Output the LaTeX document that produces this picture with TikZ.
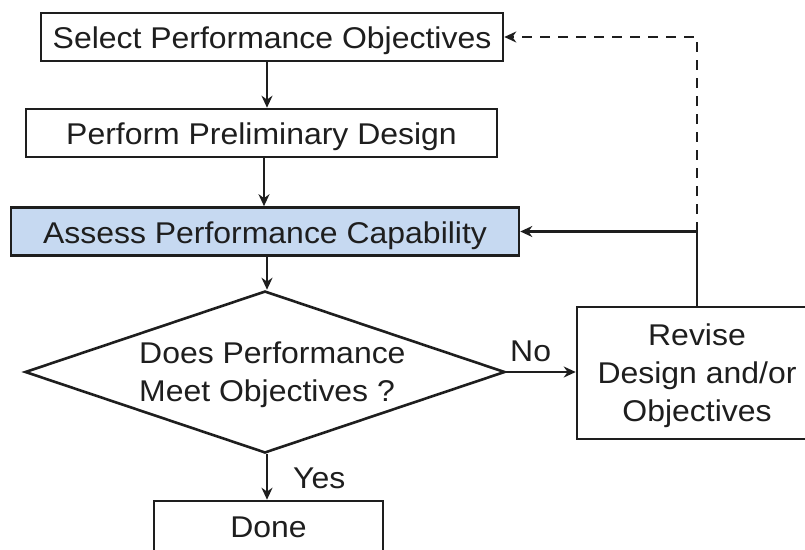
\documentclass[tikz,border=0pt]{standalone}
\usepackage{fontspec}
\setmainfont{Liberation Sans}[FakeStretch=1.065]
\usetikzlibrary{arrows.meta,shapes.geometric}
\definecolor{ink}{HTML}{1E1E1E}
\definecolor{assess}{HTML}{C6D9F1}
\begin{document}
\begin{tikzpicture}[x=1pt,y=-1pt,
  font=\fontsize{30}{38}\selectfont,
  box/.style={draw=ink, line width=2.6pt, inner sep=0pt, text height=35.5pt, text depth=12.5pt, text=ink},
  arr/.style={draw=ink, line width=2.2pt, -{Stealth[length=12pt,width=11pt]}},
  dasharr/.style={arr, dash pattern=on 10pt off 8pt},
  lbl/.style={text=ink, inner sep=0pt}]
\useasboundingbox (0,0) rectangle (805,549);
\fill[white] (0,0) rectangle (805,549);
\node[box, minimum width=462pt] (b1) at (272,37) {Select Performance Objectives};
\node[box, minimum width=471pt] (b2) at (261.5,133) {Perform Preliminary Design};
\node[box, fill=assess, minimum width=508pt] (b3) at (265,231.5) {Assess Performance Capability};
\node[diamond, draw=ink, line width=2.6pt, inner sep=0pt, minimum width=480pt, minimum height=162pt] (q) at (265,372) {};
\node[lbl, align=left, anchor=base west] (qt) at (139,401.7) {Does Performance\\Meet Objectives ?};
\node[box, minimum width=229pt, text height=36pt, text depth=14pt] (done) at (268.5,526) {Done};
\node[draw=ink, line width=2.6pt, minimum width=240pt, minimum height=132pt, inner sep=0pt] (rv) at (697,373) {};
\node[lbl, align=center, anchor=base] (rvt) at (697,421.7) {Revise\\Design and/or\\Objectives};
\coordinate (ax) at (267,0);
\coordinate (ax2) at (264,0);
\draw[arr] (b1.south -| ax) -- (b2.north -| ax);
\draw[arr] (b2.south -| ax2) -- (b3.north -| ax2);
\draw[arr] (b3.south -| ax) -- (q.north -| ax);
\draw[arr] (q.south -| ax) -- (done.north -| ax);
\draw[arr] (q.east) -- (q.east -| rv.west);
\coordinate (j) at (rv.north |- b3.east);
\draw[arr] (rv.north) -- (j) -- (b3.east);
\draw[dasharr] (j) |- (b1.east);
\node[lbl, anchor=base west] (no) at (510,361.7) {No};
\node[lbl, anchor=base west] (yes) at (293,488.3) {Yes};
\end{tikzpicture}
\end{document}
